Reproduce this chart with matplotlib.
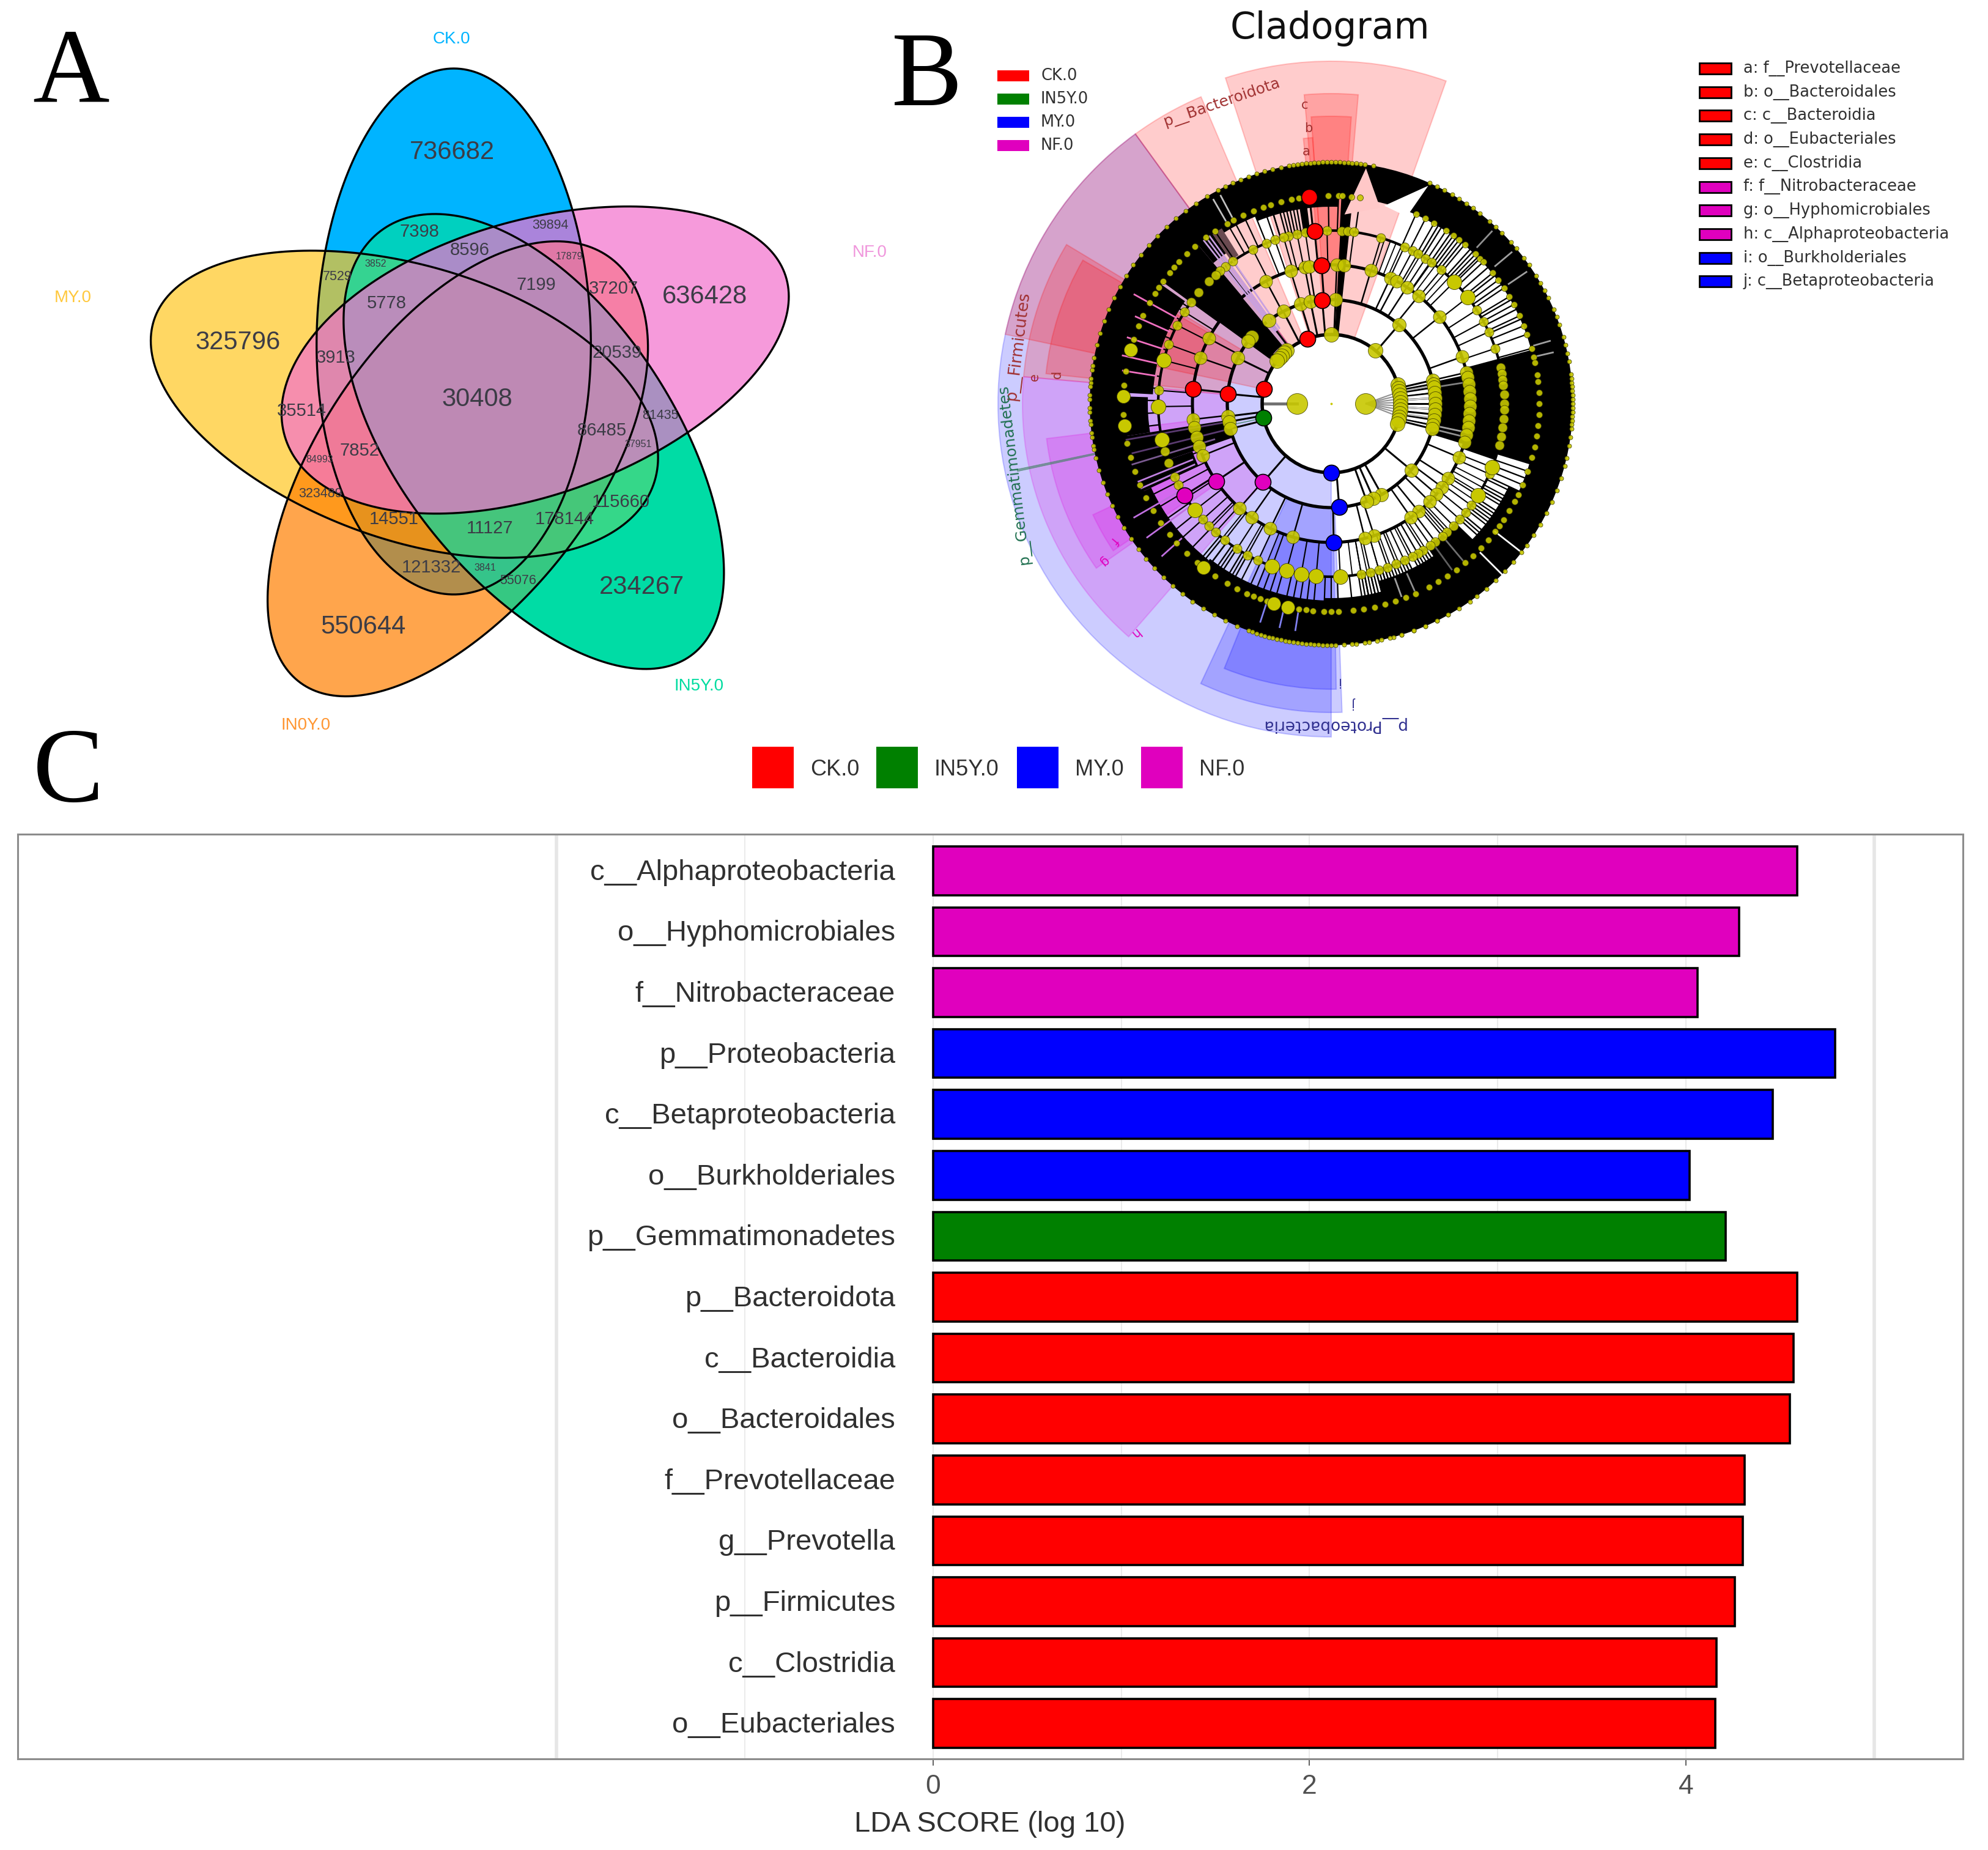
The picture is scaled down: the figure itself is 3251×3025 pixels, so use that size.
import numpy as np
import matplotlib
matplotlib.use('Agg')
from matplotlib import pyplot as plt
from matplotlib.patches import Polygon, Rectangle, Wedge, Circle
from matplotlib.collections import LineCollection

W, H = 3251, 3025
SANS = 'Liberation Sans'

#########################################################################
# data
#########################################################################
# venn: group names and counts (big / mid / small / tiny labels)
venn_groups = ['CK.0', 'MY.0', 'IN0Y.0', 'IN5Y.0', 'NF.0']
venn_big = ['736682', '636428', '234267', '550644', '325796', '30408']
venn_mid = ['7398', '8596', '5778', '7199', '37207', '3913', '20539', '35514', '86485',
            '7852', '115660', '14551', '178144', '11127', '121332']
venn_small = ['39894', '7529', '81435', '323489', '55076']
venn_tiny = ['17879', '3852', '37951', '84993', '3841']

# LDA bars, top to bottom
taxa = ['c__Alphaproteobacteria', 'o__Hyphomicrobiales', 'f__Nitrobacteraceae',
        'p__Proteobacteria', 'c__Betaproteobacteria', 'o__Burkholderiales',
        'p__Gemmatimonadetes', 'p__Bacteroidota', 'c__Bacteroidia', 'o__Bacteroidales',
        'f__Prevotellaceae', 'g__Prevotella', 'p__Firmicutes', 'c__Clostridia',
        'o__Eubacteriales']
lda_scores = [4.59, 4.28, 4.06, 4.79, 4.46, 4.02, 4.21, 4.59, 4.57, 4.55, 4.31, 4.30, 4.26,
              4.16, 4.155]
taxa_group = ['NF.0', 'NF.0', 'NF.0', 'MY.0', 'MY.0', 'MY.0', 'IN5Y.0', 'CK.0', 'CK.0', 'CK.0',
              'CK.0', 'CK.0', 'CK.0', 'CK.0', 'CK.0']
lda_groups = ['CK.0', 'IN5Y.0', 'MY.0', 'NF.0']
lda_colors = {'CK.0': '#FF0000', 'IN5Y.0': '#008000', 'MY.0': '#0000FF', 'NF.0': '#E000BE'}

# cladogram legend
clade_keys = ['a: f__Prevotellaceae', 'b: o__Bacteroidales', 'c: c__Bacteroidia',
              'd: o__Eubacteriales', 'e: c__Clostridia', 'f: f__Nitrobacteraceae',
              'g: o__Hyphomicrobiales', 'h: c__Alphaproteobacteria', 'i: o__Burkholderiales',
              'j: c__Betaproteobacteria']
clade_key_group = ['CK.0'] * 5 + ['NF.0'] * 3 + ['MY.0'] * 2

# cladogram rings, radii in px
ring_r = [56, 113, 170, 227, 283, 340, 395]

ring0_nodes = [180, 0]
ring1_nodes = [90, 50.6, 130, 133, 136, 139, 142, 16, 13, 10, 7, 4, 1, -2, -5, -8, -11, -14, -17]
ring2_nodes = [107, 101.5, 87.6, 49.4, 117.5, 127, 140, 143, 154, 187, 190, 194, 13, 11, 9, 6, 3, 0,
               -3, -6, -9, -12, -14, -39.7, -61, -66, -70]
ring3_nodes = [118, 107, 101, 99, 87.7, 84.7, 73.4, 64.8, 62, 57, 51, 38.7, 19.7, 13, 11, 8, 5, 2,
               -1, -4, -7, -10, -13, -16, -22.8, -32.5, -37, -40.7, -44.9, -51, -55, -72, -76,
               152, 160.7, 186.5, 190, 194, 198, 202, 228.7, 235, 244, 254]
ring4_nodes = [91.4, 86.5, 84.5, 82.5, 73.3, 65, 62, 60, 57, 54.7, 50.6, 44.7, 37.9, 32.8, 28.3,
               24.5, 18.6, 12, 10, 8, 6, 3, 0, -2, -5, -8, -11, -14, -21.6, -24, -32, -36, -39, -42,
               -45, -48, -50, -53, -55, -58, -60, -62, -65, -68, -71, -74, -77, -80, 273, 265, 260,
               255, 250, 245, 241, 237, 232, 228, 225, 222, 218, 213, 208, 205, 200, 196, 192, 181,
               175.6, 165.5, 160, 153, 148, 144, 140, 101.4, 98.6, 104.3, 106, 109, 112, 117, 124.6,
               127.7, 130, 132, 135]
ring5_nodes = [90.8, 88, 87, 84.5, 82, 65.9, 63, 60.3, 56.4, 54, 52, 50, 46, 44.3, 43, 39, 36.5, 33.8,
               31, 28.5, 25, 22, 19.5, 15.4, 13, 11.3, 8, 6, 3, 0, -3, -6, -9, -12, -15, -19, -23, -26,
               -28, -31, -34, -36, -38, -41, -44, -47, -50, -53, -56, -59, -62, -66, -69, -72, -75,
               -78, 279, 276, 272, 270, 268, 265, 263, 261, 259, 257, 254, 252, 250, 248, 246, 243,
               240, 236, 233, 230, 226, 222, 219, 215, 211, 207, 203, 199, 195, 191, 187, 183, 179,
               175, 171, 166, 162, 158, 155, 151, 148, 146, 144, 141, 139, 137, 134, 131, 127, 124,
               120, 118, 115, 112, 109, 107, 104, 101, 99]
ring6_nodes = [118, 116, 114, 112, 110, 108, 106, 104, 102, 100, 97, 95, 91, 88, 86, 84, 82, 80,
               66, 64, 62, 60, 58, 56, 54, 52, 49, 47, 45, 42, 40, 37, 35, 32, 30, 28, 26, 23, 21,
               19, 16, 14, 12, 10, 7, 5, 3, 1, -1, -3, -6, -8, -10, -13, -15, -18, -21, -24, -27,
               -30, -33, -36, -38, -41, -44, -47, -50, -53, -55, -58, -61, -64, -67, -70, -73, -75,
               -78, -81, -84, -87, 271, 268, 265, 262, 259, 256, 253, 250, 247, 244, 241, 238, 235,
               232, 229, 226, 223, 220, 217, 214, 211, 208, 205, 202, 199, 196, 193, 190, 187, 184,
               181, 178, 175, 172, 169, 166, 163, 160, 157, 154, 151, 148, 145, 142, 139, 136, 133,
               130, 127, 124, 121,
               99, 98, 96, 94, 93, 92, 90, 89, 87, 85, 83, 270, 269, 267, 266, 264, 263, 261, 260,
               258, 257, 255, 254, 252, 251, 275, 278, 281, 284, 287, 290, 293, 296, 299, 6, 4, 2, 0,
               -2, -4, -5, 176, 179, 182, 185, 188, 191, 174, 171]

# bigger single nodes standing out of the two outer rings
ring5_big = [165, 178, 186, 232, 258, 254]
ring4_big = [165.5, 181, 192, 218, 273, 265, 260, 255, 250, 44.7, 37.9, -21.6, -32]

# extra thin branches between rings 4 and 5, and rings 3 and 4
branches_45 = [59, 58, 55, 53, 51, 48, 47, 45, 41, 38, 35, 30, 27, 24, -21, -25, -29, -30, -33, -35, -37,
               -40, -42, -57, -58, -60, -61, -64, -65, -67, -68, -71, -73, -74, -76, -77, -79, -80,
               281, 283, 285, 287, 288, 290, 241, 239, 237, 235, 233, 231, 107, 105, 103, 102, 100]
branches_34 = [72, 70, 68, 66, 59, 55, 53, 49, 47, -27, -29, -31, -34, -47, -49, -53, -57, -60, -63,
               -67, -70, -74, -78, 277, 280, 248, 240, 231, 226]

# coloured biomarker nodes: ring, angle
marker_red = [(1, 110), (1, 167.5), (2, 95), (2, 174.6), (3, 94), (3, 174), (4, 95.5), (5, 96)]
marker_green = [(1, 192)]
marker_blue = [(1, 270), (2, 274.4), (3, 271)]
marker_magenta = [(2, 229), (3, 214), (4, 212)]

# dense black part of the tree: theta1, theta2, r1, r2
black_sectors = [(0, 360, 340, 395), (-17, 15, 283, 340), (-19, 15, 227, 283), (-17, 12, 170, 227),
                 (130, 144, 125, 340), (125, 130, 300, 340), (145, 177, 292, 340),
                 (189, 199, 170, 340), (178, 189, 300, 340), (199, 205, 240, 340),
                 (84, 87, 113, 340), (97, 99, 283, 340), (88, 112, 322, 340), (112, 125, 330, 340),
                 (-56, -44, 283, 340), (-75, -62, 300, 340), (-62, -56, 300, 340), (-44, -25, 320, 340),
                 (232, 268, 322, 340), (268, 300, 318, 340), (205, 232, 325, 340)]

# shaded clades: colour key, theta1, theta2, r1, r2
clade_shades = [('CK.0', 70.4, 108, 113, 560), ('CK.0', 113, 126, 113, 545),
                ('MY.0', 126, 270, 113, 545), ('CK.0', 126, 168, 113, 545),
                ('CK.0', 149, 175, 170, 505), ('CK.0', 150, 174, 227, 469),
                ('NF.0', 175, 229, 170, 505), ('NF.0', 187, 215, 227, 469),
                ('NF.0', 205, 214, 283, 430), ('MY.0', 245, 272, 170, 505),
                ('MY.0', 248, 271, 227, 467), ('CK.0', 85, 95, 170, 507),
                ('CK.0', 86, 94, 227, 470), ('CK.0', 94, 96, 283, 436)]

#########################################################################
# layout helpers
#########################################################################
fig = plt.figure(figsize=(W / 100, H / 100), dpi=100)


def px_axes(x0, y0, x1, y1):
    # axes placed by pixel box of the reference, y0 is the top edge
    return fig.add_axes([x0 / W, 1 - y1 / H, (x1 - x0) / W, (y1 - y0) / H])


base = px_axes(0, 0, W, H)
base.set_xlim(0, W)
base.set_ylim(H, 0)
base.axis('off')

for letter, lx, ly in [('A', 116, 166), ('B', 1516, 172), ('C', 112, 1310)]:
    base.text(lx, ly, letter, family='Liberation Serif', fontsize=125, ha='center', va='baseline')

#########################################################################
# A: venn
#########################################################################
venn_c = (780, 655)
venn_target = {'CK.0': '#00B4FF', 'IN5Y.0': '#00DCA5'}
venn_fill = {'CK.0': '#00B4FF', 'MY.0': '#FFC621', 'IN0Y.0': '#FF7F00', 'IN5Y.0': '#00DCA5',
             'NF.0': '#F370CD'}
venn_rot = {'CK.0': 0, 'NF.0': 72, 'IN5Y.0': 144, 'IN0Y.0': 216, 'MY.0': 288}


def petal(rot):
    t = np.linspace(0, 2 * np.pi, 240)
    a, b = 430, 224
    along = a * np.cos(t) + 113
    side = b * np.sin(t) * (1 - 0.05 * np.cos(t)) - 38
    r = np.radians(rot)
    x = venn_c[0] + side * np.cos(r) + along * np.sin(r)
    y = venn_c[1] + side * np.sin(r) - along * np.cos(r)
    return np.column_stack([x, y])


# the two saturated petals go down opaque first, the rest blends over them
base.add_patch(Polygon(petal(venn_rot['IN5Y.0']), closed=True, fc=venn_target['IN5Y.0'], ec='none'))
base.add_patch(Polygon(petal(venn_rot['CK.0']), closed=True, fc=venn_target['CK.0'], ec='none'))
for g in ['MY.0', 'IN0Y.0', 'IN5Y.0', 'NF.0']:
    base.add_patch(Polygon(petal(venn_rot[g]), closed=True, fc=venn_fill[g], ec='none', alpha=0.7))
for g in venn_groups:
    base.add_patch(Polygon(petal(venn_rot[g]), closed=True, fc='none', ec='black', lw=2.4))

venn_name_xy = {'CK.0': (738, 64), 'MY.0': (119, 487), 'IN0Y.0': (500, 1186), 'IN5Y.0': (1143, 1122),
                'NF.0': (1422, 413)}
venn_name_col = {'CK.0': '#00B4FF', 'MY.0': '#FFC83C', 'IN0Y.0': '#FF9632', 'IN5Y.0': '#00DCA0',
                 'NF.0': '#F096DC'}
for g in venn_groups:
    base.text(*venn_name_xy[g], g, color=venn_name_col[g], family=SANS, fontsize=20, ha='center', va='center')


def zoom_xy(zx, zy):
    return 200 + zx / 1.307, 60 + zy / 1.425


big_pos = [(705, 270), (1245, 605), (1110, 1282), (515, 1375), (247, 712), (758, 845)]
mid_pos = [(635, 455), (742, 498), (565, 622), (885, 578), (1050, 587), (456, 748), (1058, 737),
           (383, 872), (1025, 918), (507, 965), (1065, 1085), (581, 1125), (945, 1125), (785, 1145),
           (660, 1237)]
small_pos = [(915, 440), (460, 560), (1150, 883), (423, 1065), (846, 1268)]
tiny_pos = [(955, 513), (542, 530), (1103, 950), (422, 985), (775, 1237)]
for labels, pos, size in [(venn_big, big_pos, 30), (venn_mid, mid_pos, 21),
                          (venn_small, small_pos, 15.5), (venn_tiny, tiny_pos, 11.5)]:
    for s, p in zip(labels, pos):
        base.text(*zoom_xy(*p), s, color='#3C3C46', family=SANS, fontsize=size, ha='center', va='center')

#########################################################################
# B: cladogram
#########################################################################
cx, cy = 2177, 660
clado = px_axes(1550, 0, 2700, 1300)
clado.set_xlim(1550 - cx, 2700 - cx)
clado.set_ylim(cy - 1300, cy)
clado.axis('off')
clado.patch.set_alpha(0)

shade_col = {'CK.0': '#FF0000', 'MY.0': '#0000FF', 'NF.0': '#E000E0'}
for key, t1, t2, r1, r2 in clade_shades:
    clado.add_patch(Wedge((0, 0), r2, t1, t2, width=r2 - r1, fc=shade_col[key], ec=shade_col[key], lw=1.5, alpha=0.2))
# Gemmatimonadetes is one thin sliver
clado.add_patch(Wedge((0, 0), 525, 191.8, 192.2, width=412, fc='#408060', ec='#408060', lw=0.6, alpha=0.6))

for t1, t2, r1, r2 in black_sectors:
    clado.add_patch(Wedge((0, 0), r2, t1, t2, width=r2 - r1, fc='black', ec='none'))
clado.add_patch(Wedge((0, 0), 338, 122, 125, width=52, fc='#6A4A50', ec='none'))


def polar(r, deg):
    return r * np.cos(np.radians(deg)), r * np.sin(np.radians(deg))


ring_lists = [ring0_nodes, ring1_nodes, ring2_nodes, ring3_nodes, ring4_nodes, ring5_nodes, ring6_nodes]
spoke_lw = [2.5, 2.2, 2.2, 1.8, 1.5, 1.6, 1.2]
for i, nodes in enumerate(ring_lists):
    if i < 2:
        continue
    segs = [[polar(ring_r[i - 1], a), polar(ring_r[i], a)] for a in nodes]
    clado.add_collection(LineCollection(segs, colors='black', linewidths=spoke_lw[i], zorder=2))

for nodes, k, lw in [(branches_45, 5, 1.7), (branches_34, 4, 1.3)]:
    segs = [[polar(ring_r[k - 1], a), polar(ring_r[k], a)] for a in nodes]
    clado.add_collection(LineCollection(segs, colors='black', linewidths=lw, zorder=2))

# the fans off the two innermost nodes
fan = [[polar(56, 0), polar(113, a)] for a in ring1_nodes if abs(a) < 12]
clado.add_collection(LineCollection(fan, colors='#909090', linewidths=1.5, zorder=2))
clado.plot(*zip(polar(56, 180), polar(113, 180)), color='#707070', lw=3.5, zorder=2)

# spokes of the biomarkers run down to the ring before
for mlist in [marker_red, marker_green, marker_blue, marker_magenta]:
    segs = [[polar(ring_r[k - 1], a), polar(ring_r[k], a)] for k, a in mlist if k > 1]
    clado.add_collection(LineCollection(segs, colors='black', linewidths=2.2, zorder=2))

for r, lw in zip(ring_r[1:6], [4.0, 3.8, 3.6, 3.0, 2.0]):
    clado.add_patch(Circle((0, 0), r, fc='none', ec='black', lw=lw, zorder=2))

# streaks where the black part opens up
streaks = [(10, 113, 170, '#B0B0B0'), (7, 113, 170, '#FFFFFF'), (-8, 113, 170, '#C0C0C0'), (-11, 113, 170, '#FFFFFF'),
           (3, 113, 170, '#D0D0D0'), (-3, 113, 170, '#D0D0D0'), (9, 170, 228, '#808080'), (-12, 170, 228, '#A0A0A0'),
           (-14, 170, 228, '#909090'), (-38, 395, 340, '#FFFFFF'), (-45, 395, 345, '#FFFFFF'), (34, 350, 385, '#A0A0A0'),
           (40, 350, 385, '#A0A0A0'), (47, 350, 385, '#909090'), (16, 345, 372, '#A0A0A0'), (13, 345, 372, '#A0A0A0'),
           (118, 345, 385, '#C0C0C0'), (120, 345, 385, '#C0C0C0'), (128, 150, 338, '#C8A0E0'), (126, 150, 338, '#C8A0E0'),
           (124.5, 150, 283, '#C8A0E0'), (127, 150, 338, '#C8A0E0'),
           (151, 290, 368, '#F070C0'), (156, 290, 350, '#F070C0'), (162, 290, 350, '#F070C0'), (167, 285, 350, '#F070C0'),
           (171, 290, 345, '#F070C0'), (190, 180, 340, '#5A3A70'), (194, 180, 335, '#5A3A70'), (197, 200, 340, '#7A5A90'),
           (202, 245, 340, '#C080E0'), (204, 245, 340, '#C080E0'), (210, 290, 372, '#C070E0'), (216, 290, 372, '#C070E0'),
           (222, 330, 372, '#C070E0'), (252, 340, 375, '#8080F0'), (257, 340, 375, '#8080F0'), (261, 340, 375, '#8080F0'),
           (-50, 290, 335, '#707070'), (-54, 290, 335, '#606060'), (-66, 305, 335, '#909090'), (-70, 305, 335, '#A0A0A0')]
for a, r1, r2, col in streaks:
    clado.plot(*zip(polar(r1, a), polar(r2, a)), color=col, lw=2.0, zorder=3)

# the two white-ish notches at the top of the dense band
clado.add_patch(Polygon([polar(389, 81.6), polar(310, 86), polar(330, 76)], fc='#FFC8C8', ec='none', zorder=3))
clado.add_patch(Polygon([polar(390, 66), polar(335, 75), polar(330, 68)], fc='white', ec='none', zorder=3))

node_px = [34, 24, 22, 21, 15, 10, 7]
for i, nodes in enumerate(ring_lists):
    xy = np.array([polar(ring_r[i], a) for a in nodes])
    clado.scatter(xy[:, 0], xy[:, 1], s=(node_px[i] * 0.72) ** 2, c='#C8C800', edgecolors='#404000',
                  linewidths=0.6, alpha=0.9, zorder=4)
for nodes, r, d in [(ring5_big, 340, 22), (ring4_big, 283, 24)]:
    xy = np.array([polar(r, a) for a in nodes])
    clado.scatter(xy[:, 0], xy[:, 1], s=(d * 0.72) ** 2, c='#C8C800', edgecolors='#404000', linewidths=0.6, zorder=4)
clado.scatter([0], [0], s=3, c='#C8C800', zorder=4)

for mlist, col in [(marker_red, '#FF0000'), (marker_green, '#008000'), (marker_blue, '#0000FF'),
                   (marker_magenta, '#E000BE')]:
    xy = np.array([polar(ring_r[k], a) for k, a in mlist])
    clado.scatter(xy[:, 0], xy[:, 1], s=(26 * 0.72) ** 2, c=col, edgecolors='black', linewidths=1.2, zorder=5)

clade_text = [('p__Bacteroidota', 1998, 168, 19, '#A03030', 18), ('p__Firmicutes', 1665, 565, 83, '#A03030', 19),
              ('p__Gemmatimonadetes', 1658, 775, 97, '#207050', 18), ('p__Proteobacteria', 2180, 1185, 180, '#303090', 19),
              ('c', 2134, 172, 0, '#A03030', 15), ('b', 2140, 210, 0, '#A03030', 15), ('a', 2136, 248, 0, '#A03030', 15),
              ('d', 1729, 612, 90, '#A03030', 15), ('e', 1692, 617, 90, '#A03030', 15),
              ('h', 1856, 1035, 220, '#E000BE', 15), ('g', 1805, 918, 222, '#E000BE', 15), ('f', 1822, 884, 230, '#E000BE', 15),
              ('i', 2188, 1114, 180, '#303090', 15), ('j', 2214, 1150, 180, '#303090', 15)]
for s, x, y, rot, col, size in clade_text:
    base.text(x, y, s, rotation=rot, color=col, fontsize=size, ha='center', va='center', zorder=6)

base.set_zorder(3)
base.text(2175, 46, 'Cladogram', fontsize=43, ha='center', va='center', color='#101010')

# legends of the cladogram
for i, g in enumerate(lda_groups):
    y = 124 + i * 38
    base.add_patch(Rectangle((1631, y - 9), 52, 18, fc=lda_colors[g], ec='none'))
    base.text(1702, y, g, fontsize=18.5, va='center', color='#303030')
for i, (s, g) in enumerate(zip(clade_keys, clade_key_group)):
    y = 112 + i * 38.7
    base.add_patch(Rectangle((2779, y - 9), 52, 18, fc=lda_colors[g], ec='black', lw=2))
    base.text(2851, y, s, fontsize=18.5, va='center', color='#303030')

#########################################################################
# C: LDA bars
#########################################################################
ax = px_axes(29, 1364, 3210, 2876)
y_pos = np.arange(len(taxa))[::-1]
ax.barh(y_pos, lda_scores, height=0.8, color=[lda_colors[g] for g in taxa_group], edgecolor='black', linewidth=2.6, zorder=3)
ax.set_xlim(-4.86, 5.47)
ax.set_ylim(-0.58, 14.6)
for x in [-2, 5]:
    ax.axvline(x, color='#E6E6E6', lw=4, zorder=1)
for x in [-1, 0, 1, 2, 3, 4]:
    ax.axvline(x, color='#EBEBEB', lw=1.5, zorder=1)
for s, y in zip(taxa, y_pos):
    ax.text(-0.2, y - 0.03, s, family=SANS, fontsize=34, ha='right', va='center', color='#303030')
ax.set_yticks([])
ax.set_xticks([0, 2, 4])
ax.tick_params(axis='x', length=8, width=1.2, color='#444444', pad=10, labelsize=32, labelcolor='#505050')
for lab in ax.get_xticklabels():
    lab.set_family(SANS)
for sp in ax.spines.values():
    sp.set_color('#8C8C8C')
    sp.set_linewidth(2.2)
base.text(1619, 2983, 'LDA SCORE (log 10)', family=SANS, fontsize=34, ha='center', va='center', color='#303030')

leg_x = [1230, 1433, 1663, 1866]
for g, x in zip(lda_groups, leg_x):
    base.add_patch(Rectangle((x, 1221), 68, 68, fc=lda_colors[g], ec='none'))
    base.text(x + 95, 1259, g, family=SANS, fontsize=26, va='center', color='#303030')

fig.savefig('out.png', dpi=100)
